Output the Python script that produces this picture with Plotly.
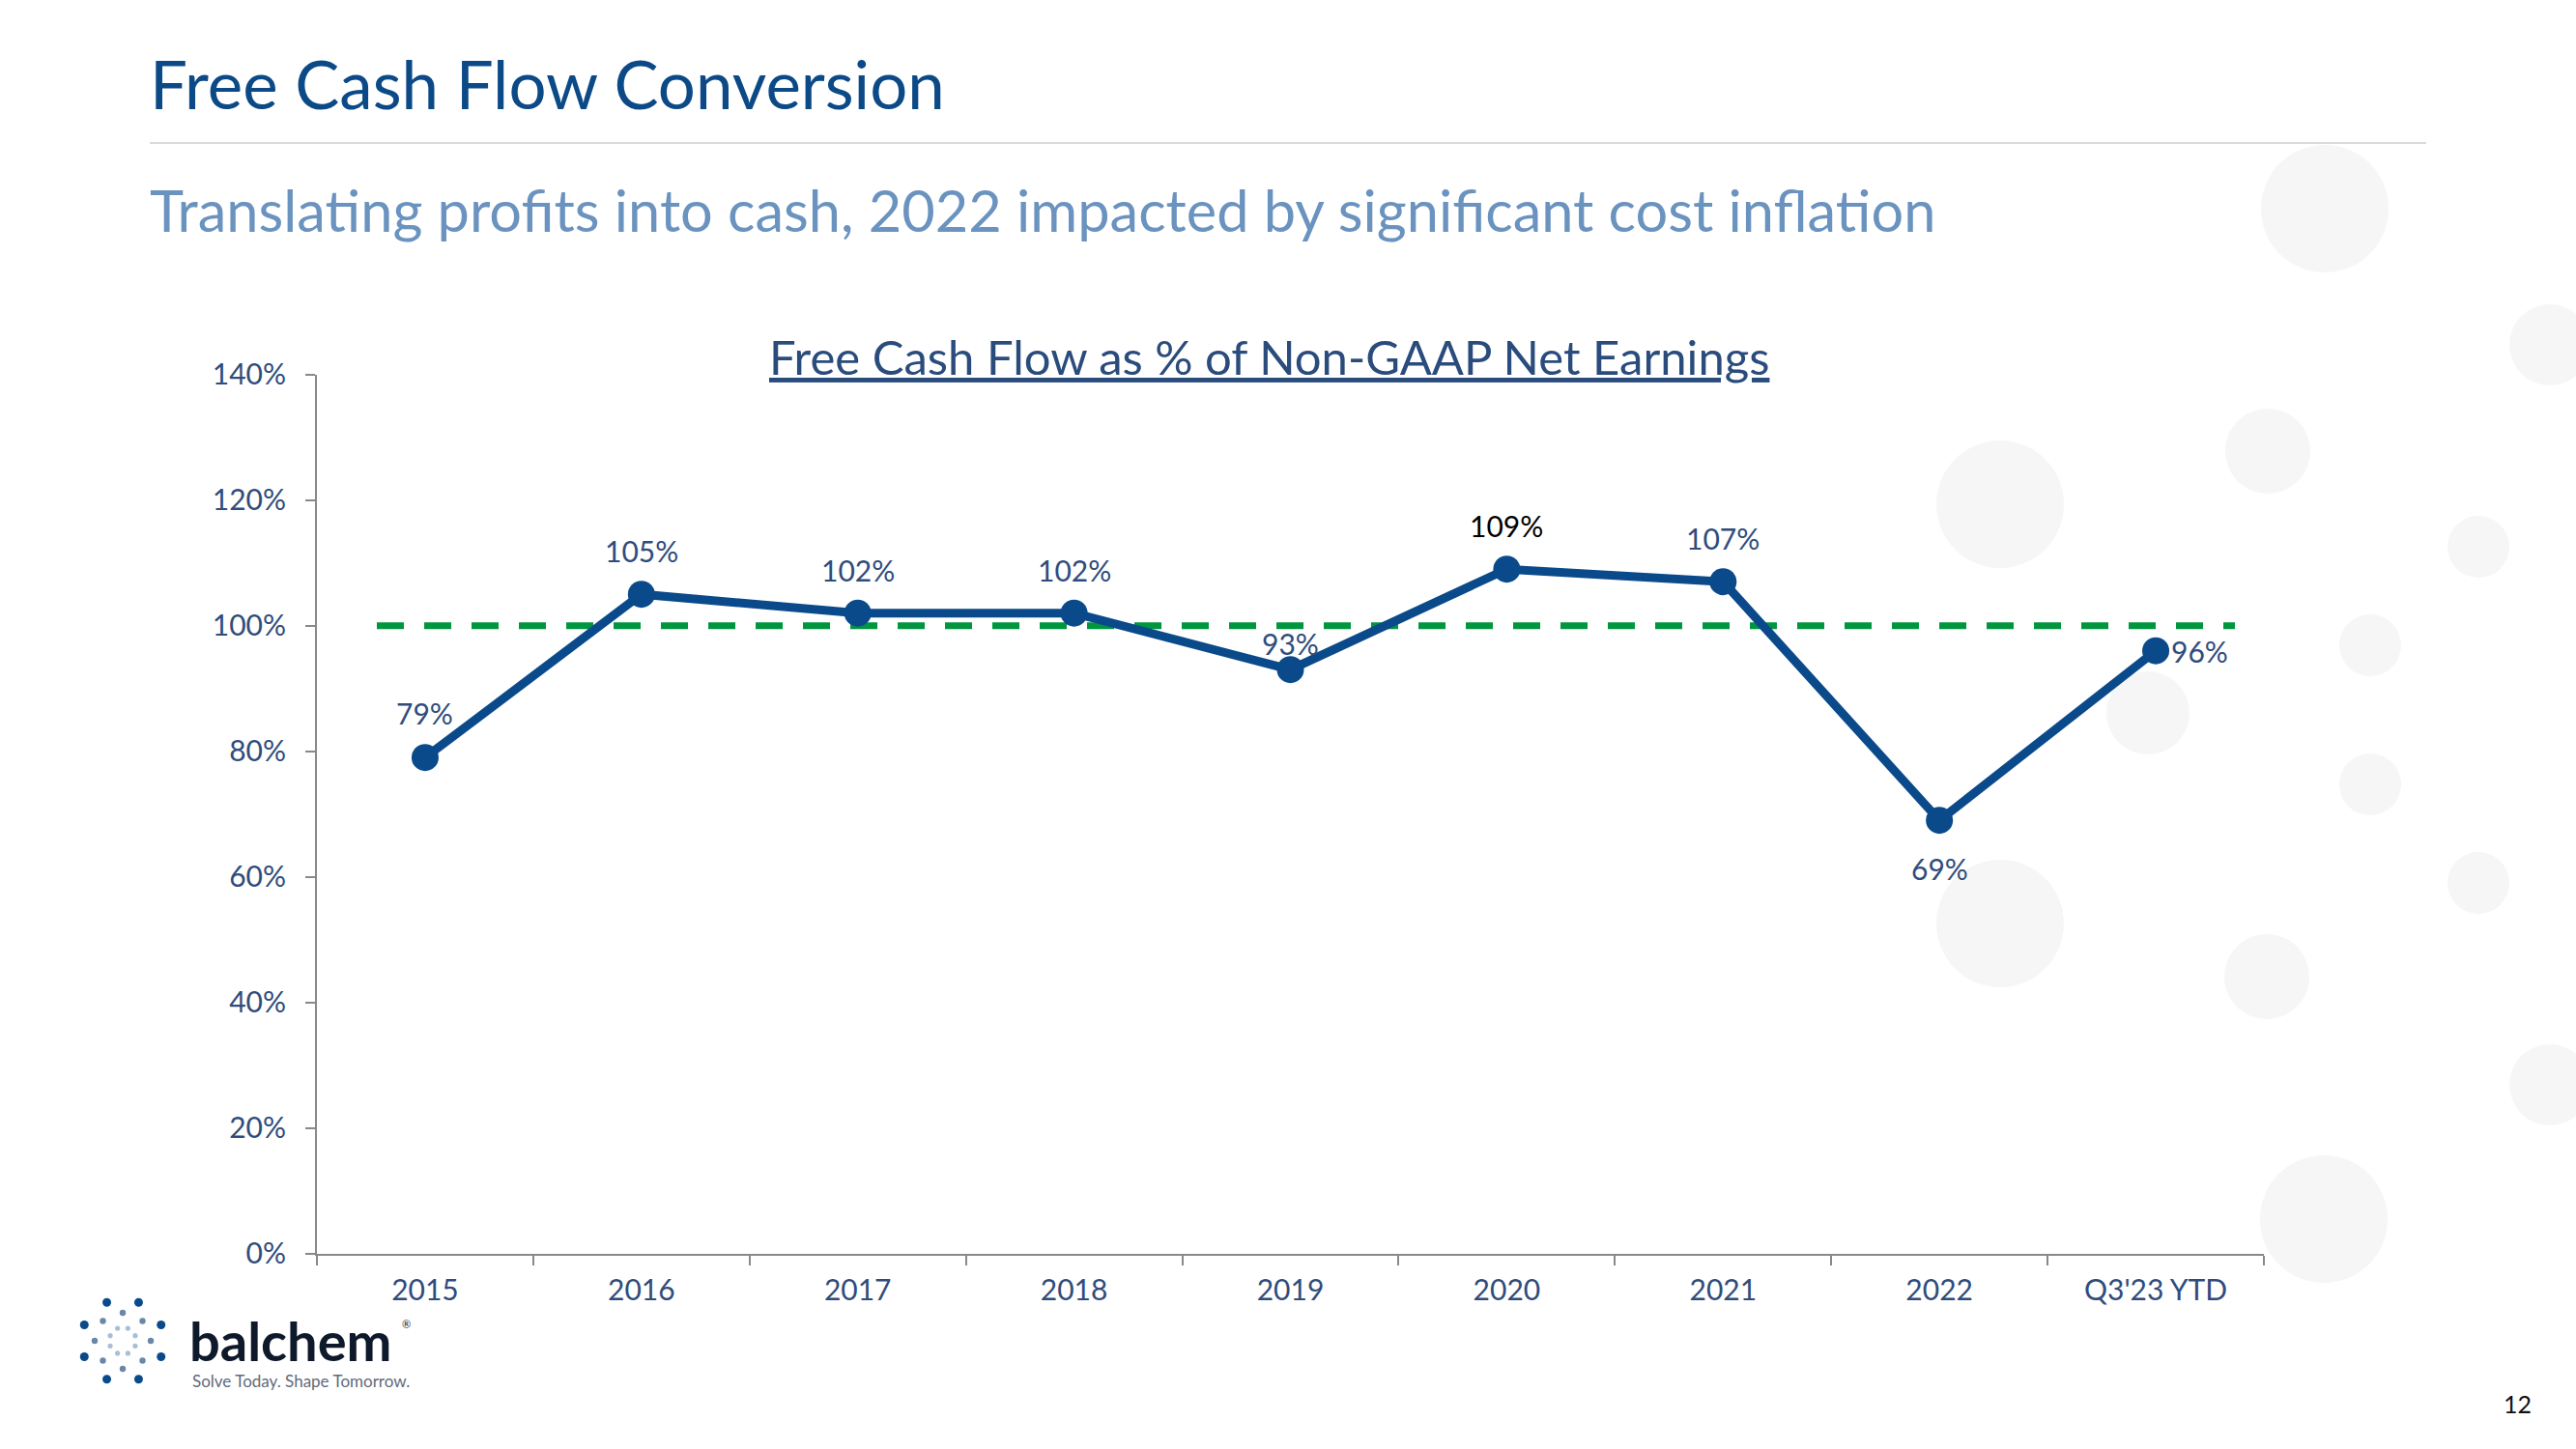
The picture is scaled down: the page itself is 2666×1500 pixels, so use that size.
import math
import plotly.graph_objects as go

# ---------------- data ----------------
categories = ["2015", "2016", "2017", "2018", "2019", "2020", "2021", "2022", "Q3'23 YTD"]
fcf_conversion = [79, 105, 102, 102, 93, 109, 107, 69, 96]
target_level = 100
y_ticks = [0, 20, 40, 60, 80, 100, 120, 140]
y_tick_labels = [f"{v}%" for v in y_ticks]

title_text = "Free Cash Flow Conversion"
subtitle_text = "Translating profits into cash, 2022 impacted by significant cost inflation"
chart_title_text = "Free Cash Flow as % of Non-GAAP Net Earnings"
page_number = "12"

W, H = 2666, 1500
FONT = "Lato"
LINE_BLUE = "#0B4A8A"
LABEL_BLUE = "#2F4C7C"
GREEN = "#00963F"


def px(x):
    return x / W


def py(y):
    return 1 - y / H


fig = go.Figure()

fig.add_trace(go.Scatter(
    x=categories, y=fcf_conversion, mode="lines+markers",
    line=dict(color=LINE_BLUE, width=9),
    marker=dict(color=LINE_BLUE, size=28),
    hoverinfo="skip", showlegend=False,
))

shapes = []
annotations = []

# background decorative circles (paper px centre, radius)
bg_circles = [
    (2406, 216, 66), (2639, 357, 42), (2347, 467, 44), (2565, 566, 32),
    (2453, 668, 32), (2223, 738, 43), (2453, 812, 32), (2565, 914, 32),
    (2346, 1011, 44), (2639, 1123, 42), (2405, 1262, 66),
    (2070, 522, 66), (2070, 956, 66),
]
for cx, cy, r in bg_circles:
    shapes.append(dict(type="circle", xref="paper", yref="paper",
                       xsizemode="pixel", ysizemode="pixel",
                       xanchor=px(cx), yanchor=py(cy),
                       x0=-r, x1=r, y0=-r, y1=r,
                       fillcolor="#F6F6F6", line=dict(width=0), layer="below"))

# separator line under the title
shapes.append(dict(type="line", xref="paper", yref="paper",
                   x0=px(155), x1=px(2511), y0=py(148), y1=py(148),
                   line=dict(color="#D9D9D9", width=2)))

# 100% target dashed line
shapes.append(dict(type="line", xref="x", yref="y",
                   x0=-0.223, x1=8.366, y0=target_level, y1=target_level,
                   line=dict(color=GREEN, width=7, dash="28px,21px"),
                   layer="below"))

# data labels (x given as category index)
label_offsets = [(0, 46), (0, 45), (0, 45), (0, 45), (0, 27), (0, 45), (0, 45), (0, -50), None]
for i, (cat, val) in enumerate(zip(categories, fcf_conversion)):
    color = "#000000" if cat == "2020" else LABEL_BLUE
    off = label_offsets[i]
    if off is not None:
        annotations.append(dict(x=i, y=val, xref="x", yref="y", text=f"{val}%",
                                showarrow=False, xanchor="center", yanchor="middle",
                                xshift=off[0], yshift=off[1],
                                font=dict(family=FONT, size=30, color=color)))
    else:
        annotations.append(dict(x=i, y=val, xref="x", yref="y", text=f"{val}%",
                                showarrow=False, xanchor="left", yanchor="middle",
                                xshift=14, yshift=0,
                                font=dict(family=FONT, size=30, color=color)))

# titles
annotations.append(dict(x=px(153), y=py(86), xref="paper", yref="paper", text=title_text,
                        showarrow=False, xanchor="left", yanchor="middle",
                        font=dict(family=FONT, size=69, color="#0C4A87")))
annotations.append(dict(x=px(153), y=py(217), xref="paper", yref="paper", text=subtitle_text,
                        showarrow=False, xanchor="left", yanchor="middle",
                        font=dict(family=FONT, size=59.5, color="#6A93BF")))
annotations.append(dict(x=px(1313), y=py(369), xref="paper", yref="paper",
                        text=f"<u>{chart_title_text}</u>",
                        showarrow=False, xanchor="center", yanchor="middle",
                        font=dict(family=FONT, size=49, color="#2A4C7D")))

# page number
annotations.append(dict(x=px(2605), y=py(1453), xref="paper", yref="paper", text=page_number,
                        showarrow=False, xanchor="center", yanchor="middle",
                        font=dict(family=FONT, size=25, color="#111111")))

# logo: dotted burst
logo_cx, logo_cy = 127, 1388
rings = [
    (43, 22.5, 4.5, "#0B4A8A"),
    (29, 0.0, 3.2, "#6A87A8"),
    (14, 22.5, 2.6, "#A8BFD6"),
]
for r, a0, dr, col in rings:
    for k in range(8):
        a = math.radians(a0 + 45 * k)
        cx = logo_cx + r * math.cos(a)
        cy = logo_cy + r * math.sin(a)
        shapes.append(dict(type="circle", xref="paper", yref="paper",
                           xsizemode="pixel", ysizemode="pixel",
                           xanchor=px(cx), yanchor=py(cy),
                           x0=-dr, x1=dr, y0=-dr, y1=dr,
                           fillcolor=col, line=dict(width=0)))
annotations.append(dict(x=px(194), y=py(1387), xref="paper", yref="paper",
                        text="<b>balchem</b>",
                        showarrow=False, xanchor="left", yanchor="middle",
                        font=dict(family=FONT, size=56, color="#0E1A2B")))
annotations.append(dict(x=px(414), y=py(1370), xref="paper", yref="paper",
                        text="®",
                        showarrow=False, xanchor="left", yanchor="middle",
                        font=dict(family=FONT, size=11, color="#0E1A2B")))
annotations.append(dict(x=px(197), y=py(1429), xref="paper", yref="paper",
                        text="Solve Today. Shape Tomorrow.",
                        showarrow=False, xanchor="left", yanchor="middle",
                        font=dict(family=FONT, size=17, color="#5F6B7A")))

fig.update_layout(
    width=W, height=H, autosize=False,
    margin=dict(l=0, r=0, t=0, b=0, pad=0, autoexpand=False),
    paper_bgcolor="white", plot_bgcolor="rgba(0,0,0,0)",
    shapes=shapes, annotations=annotations,
    xaxis=dict(domain=[px(328), px(2343)], type="category", range=[-0.5, 8.5],
               automargin=False,
               showline=True, linecolor="#898989", linewidth=2,
               ticks="outside", tickson="boundaries", ticklen=10, tickwidth=2,
               tickcolor="#898989", showgrid=False, zeroline=False,
               tickfont=dict(family=FONT, size=30, color=LABEL_BLUE),
               ticklabelstandoff=10),
    yaxis=dict(domain=[py(1297.7), py(387.7)], range=[0, 140],
               automargin=False,
               tickvals=y_ticks, ticktext=y_tick_labels,
               showline=True, linecolor="#898989", linewidth=2,
               ticks="outside", ticklen=10, tickwidth=2, tickcolor="#898989",
               showgrid=False, zeroline=False,
               tickfont=dict(family=FONT, size=30, color=LABEL_BLUE),
               ticklabelstandoff=14),
)

fig.write_html("out.html")
